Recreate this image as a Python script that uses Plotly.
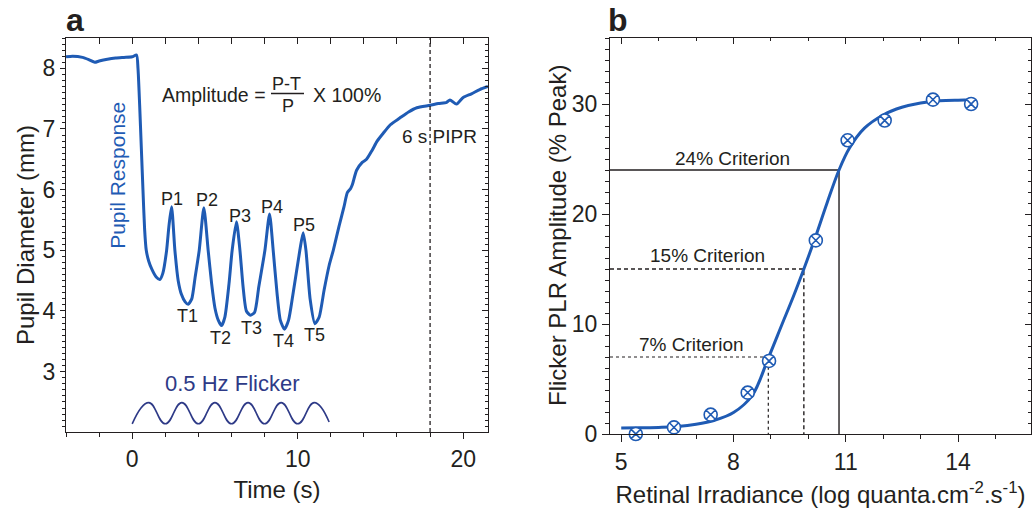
import plotly.graph_objects as go

# ---------------- Panel a data ----------------
pupil_t = [-4.0, -3.6, -3.0, -2.6, -2.26, -2.0, -1.5, -1.0, -0.5, 0.0, 0.26,
           0.35, 0.45, 0.55, 0.65, 0.75, 0.85, 1.0, 1.2, 1.45, 1.67, 1.85, 2.08, 2.22, 2.38,
           2.58, 2.78, 2.98, 3.2, 3.38, 3.6, 3.8, 4.05, 4.33,
           4.59, 4.8, 5.0, 5.2, 5.4, 5.6, 5.85, 6.04, 6.3,
           6.51, 6.7, 6.9, 7.15, 7.4, 7.65, 8.02, 8.3,
           8.52, 8.75, 8.95, 9.2, 9.45, 9.7, 10.13, 10.33,
           10.5, 10.75, 11.04, 11.3, 11.6, 11.9, 12.15, 12.5, 12.8, 13.0, 13.2, 13.3,
           13.56, 13.9, 14.16, 14.5, 14.8, 15.17, 15.6, 16.17, 16.7, 17.2, 18.0,
           18.5, 19.0, 19.2, 19.6, 20.0, 20.5, 21.0, 21.5]
pupil_d = [8.19, 8.20, 8.18, 8.14, 8.10, 8.12, 8.15, 8.17, 8.18, 8.19, 8.22,
           8.0, 7.4, 6.7, 6.0, 5.35, 5.0, 4.82, 4.68, 4.56, 4.52, 4.62, 5.0, 5.4, 5.72,
           5.0, 4.5, 4.27, 4.15, 4.11, 4.2, 4.55, 5.0, 5.70,
           5.0, 4.45, 4.05, 3.85, 3.76, 3.9, 4.45, 5.0, 5.47,
           5.0, 4.4, 4.0, 3.93, 3.98, 4.4, 5.0, 5.60,
           5.0, 4.3, 3.85, 3.70, 3.85, 4.25, 5.0, 5.29,
           5.0, 4.2, 3.79, 3.9, 4.35, 4.75, 5.0, 5.4, 5.72, 5.95, 6.02, 6.08,
           6.32, 6.45, 6.50, 6.65, 6.80, 6.93, 7.07, 7.18, 7.28, 7.35, 7.39,
           7.42, 7.44, 7.48, 7.41, 7.52, 7.58, 7.65, 7.70]

flicker_t = [0, 1, 2, 3, 4, 5, 6, 7, 8, 9, 10, 11, 11.9]
flicker_d = [2.14, 2.49, 2.14, 2.49, 2.14, 2.49, 2.14, 2.49, 2.14, 2.49, 2.14, 2.49, 2.17]

pipr_time = 18.0

peak_labels = ["P1", "P2", "P3", "P4", "P5"]
peak_lab_t = [2.43, 4.54, 6.49, 8.47, 10.4]
peak_lab_d = [5.85, 5.83, 5.57, 5.72, 5.41]
trough_labels = ["T1", "T2", "T3", "T4", "T5"]
trough_lab_t = [3.35, 5.35, 7.18, 9.17, 11.04]
trough_lab_d = [3.91, 3.56, 3.72, 3.50, 3.60]

# ---------------- Panel b data ----------------
irr_x = [5.39, 6.41, 7.39, 8.38, 8.95, 10.2, 11.05, 12.04, 13.33, 14.35]
amp_y = [0.0, 0.6, 1.76, 3.76, 6.64, 17.6, 26.7, 28.5, 30.4, 30.0]

fit_x = [5.0, 5.5, 6.0, 6.5, 7.0, 7.5, 8.0, 8.5, 8.93, 9.3, 9.6, 9.88, 10.2, 10.5,
         10.82, 11.1, 11.5, 12.0, 12.5, 13.0, 13.5, 14.0, 14.4]
fit_y = [0.55, 0.56, 0.6, 0.68, 0.88, 1.25, 1.95, 3.5, 6.9, 10.0, 12.5, 15.0, 18.0, 21.0,
         24.0, 26.0, 27.8, 29.0, 29.7, 30.1, 30.3, 30.35, 30.35]

crit_levels = [24, 15, 7]
crit_x = [10.82, 9.88, 8.93]
crit_dash = ["solid", "dash", "dot"]
crit_labels = ["24% Criterion", "15% Criterion", "7% Criterion"]
crit_lab_x = [7.98, 7.31, 6.89]
crit_lab_y = [25.06, 16.2, 8.1]

BLUE = "#1f5bb4"
NAVY = "#2e3a87"
INK = "#231f20"
FONT = "Arial, 'Liberation Sans', sans-serif"

W, H = 1032, 512
def px(x): return x / W
def py(y): return 1 - y / H

ax_dom = [px(66), px(488)]
bx_dom = [px(610), px(1031)]
ay_dom = [py(432), py(38)]
by_dom = [py(434), py(38)]

xa_rng = [-4.0, 21.5]
ya_rng = [2.005, 8.5]
xb_rng = [4.7, 15.95]
yb_rng = [0, 36]

fig = go.Figure()

# Panel a traces
fig.add_trace(go.Scatter(x=pupil_t, y=pupil_d, mode="lines",
                         line=dict(color=BLUE, width=3, shape="spline", smoothing=0.6),
                         xaxis="x", yaxis="y", showlegend=False))
fig.add_trace(go.Scatter(x=flicker_t, y=flicker_d, mode="lines",
                         line=dict(color=NAVY, width=1.6, shape="spline", smoothing=1.3),
                         xaxis="x", yaxis="y", showlegend=False))
fig.add_trace(go.Scatter(x=[pipr_time, pipr_time], y=ya_rng, mode="lines",
                         line=dict(color=INK, width=1.3, dash="4px,3px"),
                         xaxis="x", yaxis="y", showlegend=False))

# Panel b traces
for lvl, cx, dsh in zip(crit_levels, crit_x, crit_dash):
    fig.add_trace(go.Scatter(x=[xb_rng[0], cx, cx], y=[lvl, lvl, 0], mode="lines",
                             line=dict(color=INK, width=1.4 if dsh != "dot" else 1.2,
                                       dash=dsh if dsh != "dash" else "4px,3px"),
                             xaxis="x2", yaxis="y2", showlegend=False))
fig.add_trace(go.Scatter(x=fit_x, y=fit_y, mode="lines",
                         line=dict(color=BLUE, width=3, shape="spline"),
                         xaxis="x2", yaxis="y2", showlegend=False))
fig.add_trace(go.Scatter(x=irr_x, y=amp_y, mode="markers",
                         marker=dict(symbol="circle-x", size=13, color="white",
                                     line=dict(color=BLUE, width=1.6)),
                         cliponaxis=False, xaxis="x2", yaxis="y2", showlegend=False))

# mirror axes (ticks inside)
for xa, ya in [("x3", "y3"), ("x4", "y4")]:
    fig.add_trace(go.Scatter(x=[], y=[], xaxis=xa, yaxis=ya, showlegend=False))

tickfont = dict(family=FONT, size=23, color=INK)
titlefont = dict(family=FONT, size=24, color=INK)
common = dict(showline=True, linecolor=INK, linewidth=1.3, showgrid=False, zeroline=False,
              tickcolor=INK, tickwidth=1.2, tickfont=tickfont, automargin=False)

fig.update_layout(
    template="none",
    width=W, height=H, margin=dict(l=0, r=0, t=0, b=0, autoexpand=False),
    paper_bgcolor="white", plot_bgcolor="white",
    xaxis=dict(domain=ax_dom, range=xa_rng, anchor="y", tick0=0, dtick=10, ticks="outside",
               ticklen=6, minor=dict(dtick=2, tick0=0, ticks="outside", ticklen=4, tickcolor=INK, tickwidth=1.2),
               title=dict(text="Time (s)", font=titlefont, standoff=10), **common),
    yaxis=dict(domain=ay_dom, range=ya_rng, anchor="x", dtick=1, ticks="outside", ticklen=5,
               minor=dict(dtick=0.1, ticks="outside", ticklen=3, tickcolor=INK, tickwidth=1),
               title=dict(text="Pupil Diameter (mm)", font=titlefont, standoff=1), **common),
    xaxis3=dict(overlaying="x", side="top", anchor="y", range=xa_rng, tick0=0, dtick=2,
                ticks="inside", ticklen=6, showticklabels=False, **common),
    yaxis3=dict(overlaying="y", side="right", anchor="x", range=ya_rng, dtick=1, ticks="inside",
                ticklen=6, showticklabels=False,
                minor=dict(dtick=0.1, ticks="inside", ticklen=3, tickcolor=INK, tickwidth=1), **common),
    xaxis2=dict(domain=bx_dom, range=xb_rng, anchor="y2", tick0=5, dtick=3, ticks="outside",
                ticklen=7, minor=dict(dtick=1, tick0=5, ticks="outside", ticklen=4, tickcolor=INK, tickwidth=1.2),
                title=dict(text="Retinal Irradiance (log quanta.cm<sup>-2</sup>.s<sup>-1</sup>)",
                           font=titlefont, standoff=12), **common),
    yaxis2=dict(domain=by_dom, range=yb_rng, anchor="x2", dtick=10, ticks="outside", ticklen=7,
                minor=dict(dtick=1, ticks="outside", ticklen=4, tickcolor=INK, tickwidth=1), **common),
    xaxis4=dict(overlaying="x2", side="top", anchor="y2", range=xb_rng, tick0=5, dtick=3,
                ticks="inside", ticklen=6, showticklabels=False,
                minor=dict(dtick=1, tick0=5, ticks="inside", ticklen=3, tickcolor=INK, tickwidth=1.2), **common),
    yaxis4=dict(overlaying="y2", side="right", anchor="x2", range=yb_rng, dtick=10, ticks="inside",
                ticklen=6, showticklabels=False,
                minor=dict(dtick=1, ticks="inside", ticklen=3, tickcolor=INK, tickwidth=1), **common),
)

ann = []
def A(**kw):
    base = dict(showarrow=False, font=dict(family=FONT, size=18, color=INK))
    base.update(kw)
    ann.append(base)

# panel letters
A(text="<b>a</b>", xref="paper", yref="paper", x=px(64), y=1, xanchor="left", yanchor="top",
  font=dict(family=FONT, size=32, color=INK))
A(text="<b>b</b>", xref="paper", yref="paper", x=px(606), y=1, xanchor="left", yanchor="top",
  font=dict(family=FONT, size=32, color=INK))

# panel b y-axis title
A(text="Flicker PLR Amplitude (% Peak)", xref="paper", yref="paper", x=px(557), y=py(236),
  xanchor="center", yanchor="middle", textangle=-90, font=titlefont)

# amplitude formula
A(text="Amplitude =", xref="paper", yref="paper", x=px(160), y=py(95), xanchor="left", yanchor="middle",
  font=dict(family=FONT, size=19.5, color=INK))
A(text="P-T", xref="paper", yref="paper", x=px(286), y=py(84), xanchor="center", yanchor="middle")
A(text="P", xref="paper", yref="paper", x=px(288), y=py(106), xanchor="center", yanchor="middle")
A(text="X 100%", xref="paper", yref="paper", x=px(311), y=py(95), xanchor="left", yanchor="middle",
  font=dict(family=FONT, size=19.5, color=INK))

# panel a labels
for lab, t, d in zip(peak_labels, peak_lab_t, peak_lab_d):
    A(text=lab, x=t, y=d, xref="x", yref="y", xanchor="center", yanchor="middle")
for lab, t, d in zip(trough_labels, trough_lab_t, trough_lab_d):
    A(text=lab, x=t, y=d, xref="x", yref="y", xanchor="center", yanchor="middle")
A(text="Pupil Response", x=-0.85, y=6.23, xref="x", yref="y", textangle=-90,
  font=dict(family=FONT, size=21, color=BLUE))
A(text="6 s PIPR", x=18.54, y=6.87, xref="x", yref="y", font=dict(family=FONT, size=19, color=INK))
A(text="0.5 Hz Flicker", x=6.02, y=2.80, xref="x", yref="y", font=dict(family=FONT, size=22, color=NAVY))

# panel b labels
for lab, lx, ly in zip(crit_labels, crit_lab_x, crit_lab_y):
    A(text=lab, x=lx, y=ly, xref="x2", yref="y2", font=dict(family=FONT, size=19, color=INK))

fig.update_layout(annotations=ann)

# fraction bar
fig.add_shape(type="line", xref="paper", yref="paper", x0=px(271), x1=px(304), y0=py(93.5), y1=py(93.5),
              line=dict(color=INK, width=1.5))

fig.write_html("out.html", config={"displayModeBar": False},
               post_script="document.body.style.margin='0';document.body.style.padding='0';")
